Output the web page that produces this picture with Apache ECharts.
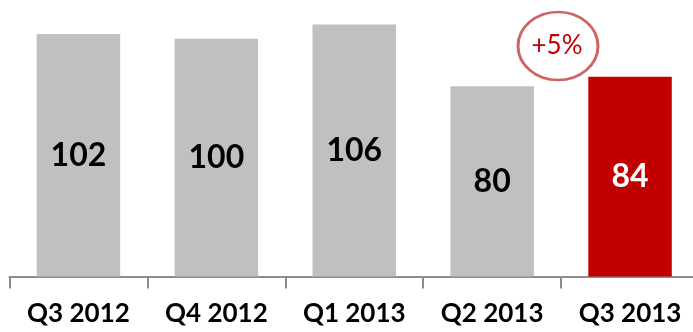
<!DOCTYPE html>
<html>
<head>
<meta charset="utf-8">
<script src="https://cdn.jsdelivr.net/npm/echarts@6/dist/echarts.min.js"></script>
<style>
  html, body { margin: 0; padding: 0; background: #fff; }
  #chart { width: 693px; height: 332px; }
</style>
</head>
<body>
<div id="chart"></div>
<script>
// Quarterly values
const quarters = ['Q3 2012', 'Q4 2012', 'Q1 2013', 'Q2 2013', 'Q3 2013'];
const values = [102, 100, 106, 80, 84];
const growthLabel = '+5%';

const GREY = '#c0c0c0';
const RED = '#c00000';
const lastIndex = values.length - 1;

const chart = echarts.init(document.getElementById('chart'));

chart.setOption({
  animation: false,
  grid: {
    left: 9.5, top: 0, width: 689.5, bottom: 55.5,
    containLabel: false,
    outerBoundsMode: 'none'
  },
  xAxis: {
    type: 'category',
    data: quarters,
    axisLine: { lineStyle: { color: '#8c8c8c', width: 2 } },
    axisTick: { show: true, length: 12, lineStyle: { color: '#8c8c8c', width: 2 } },
    axisLabel: {
      color: '#000',
      fontFamily: 'Lato',
      fontWeight: 'bold',
      fontSize: 26,
      margin: 24
    }
  },
  yAxis: {
    type: 'value',
    min: 0,
    max: 116.3,
    show: false,
    splitLine: { show: false }
  },
  series: [{
    type: 'bar',
    barWidth: 83.5,
    data: values.map((v, i) => ({
      value: v,
      itemStyle: { color: i === lastIndex ? RED : GREY },
      label: { color: i === lastIndex ? '#fff' : '#000' }
    })),
    label: {
      show: true,
      position: 'inside',
      fontFamily: 'Lato',
      fontWeight: 'bold',
      fontSize: 32
    }
  }],
  graphic: [{
    type: 'group',
    x: 558,
    y: 46,
    children: [
      {
        type: 'circle',
        scaleY: 34 / 40,
        shape: { cx: 0, cy: 0, r: 40 },
        style: { fill: 'none', stroke: 'rgba(192,60,60,0.8)', lineWidth: 3 }
      },
      {
        type: 'text',
        style: {
          text: growthLabel,
          x: -1, y: 0,
          align: 'center',
          verticalAlign: 'middle',
          fill: RED,
          font: '26px Lato'
        }
      }
    ]
  }]
});
</script>
</body>
</html>
